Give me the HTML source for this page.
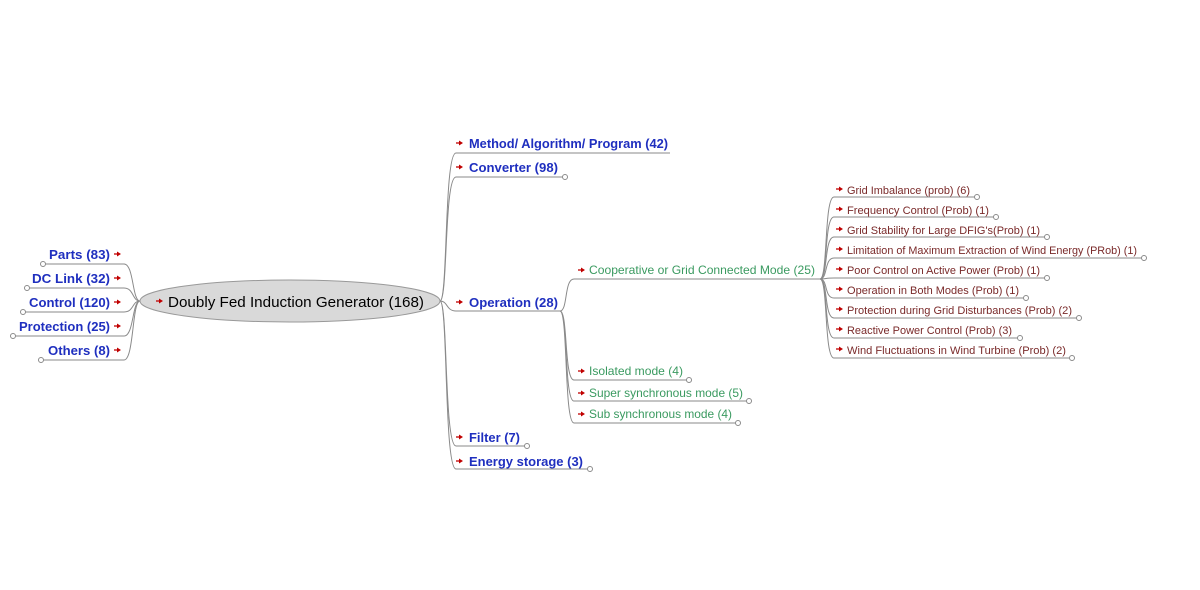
<!DOCTYPE html>
<html><head><meta charset="utf-8"><style>
html,body{margin:0;padding:0;background:#fff;}
svg{display:block;}
.b{font-family:"Liberation Sans",sans-serif;font-size:13px;font-weight:bold;fill:#1f2fbf;}
.g{font-family:"Liberation Sans",sans-serif;font-size:12px;fill:#3a9a60;}
.m{font-family:"Liberation Sans",sans-serif;font-size:11px;fill:#7a2a2a;}
.l{fill:none;stroke:#8a8a8a;stroke-width:1;}
.c{fill:#fff;stroke:#8a8a8a;stroke-width:1;}
</style></head><body>
<svg width="1200" height="590" viewBox="0 0 1200 590" xmlns="http://www.w3.org/2000/svg">
<defs><g id="a"><path d="M0,0 H4" stroke="#c00000" stroke-width="1.3"/><path d="M3,-2.5 L7,0 L3,2.5 Z" fill="#c00000"/></g></defs>

<!-- left branches -->
<path class="l" d="M140,301 C132,301 134,264 124,264 L43,264"/>
<path class="l" d="M140,301 C132,301 134,288 124,288 L27,288"/>
<path class="l" d="M140,301 C132,301 134,312 124,312 L23,312"/>
<path class="l" d="M140,301 C132,301 134,336 124,336 L13,336"/>
<path class="l" d="M140,301 C132,301 134,360 124,360 L41,360"/>
<circle class="c" cx="43" cy="264" r="2.5"/><circle class="c" cx="27" cy="288" r="2.5"/><circle class="c" cx="23" cy="312" r="2.5"/><circle class="c" cx="13" cy="336" r="2.5"/><circle class="c" cx="41" cy="360" r="2.5"/>
<text class="b" x="110" y="259" text-anchor="end" textLength="61" lengthAdjust="spacingAndGlyphs">Parts (83)</text>
<text class="b" x="110" y="283" text-anchor="end" textLength="78" lengthAdjust="spacingAndGlyphs">DC Link (32)</text>
<text class="b" x="110" y="307" text-anchor="end" textLength="81" lengthAdjust="spacingAndGlyphs">Control (120)</text>
<text class="b" x="110" y="331" text-anchor="end" textLength="91" lengthAdjust="spacingAndGlyphs">Protection (25)</text>
<text class="b" x="110" y="355" text-anchor="end" textLength="62" lengthAdjust="spacingAndGlyphs">Others (8)</text>
<use href="#a" x="114" y="254"/><use href="#a" x="114" y="278"/><use href="#a" x="114" y="302"/><use href="#a" x="114" y="326"/><use href="#a" x="114" y="350"/>

<!-- right branches -->
<path class="l" d="M440,301 C448,301 444,153 456,153 L670,153"/>
<path class="l" d="M440,301 C448,301 444,177 456,177 L565,177"/>
<path class="l" d="M440,301 C448,301 446,311 456,311 L560,311"/>
<path class="l" d="M440,301 C448,301 444,446 456,446 L527,446"/>
<path class="l" d="M440,301 C448,301 444,469 456,469 L590,469"/>
<circle class="c" cx="565" cy="177" r="2.5"/><circle class="c" cx="527" cy="446" r="2.5"/><circle class="c" cx="590" cy="469" r="2.5"/>

<!-- root -->
<ellipse cx="290" cy="301" rx="150" ry="21" fill="#d9d9d9" stroke="#999" stroke-width="1"/>
<use href="#a" x="156" y="301"/>
<text x="168" y="307" font-family="Liberation Sans, sans-serif" font-size="15" fill="#000" textLength="256" lengthAdjust="spacingAndGlyphs">Doubly Fed Induction Generator (168)</text>

<use href="#a" x="456" y="143"/><use href="#a" x="456" y="167"/><use href="#a" x="456" y="302"/><use href="#a" x="456" y="437"/><use href="#a" x="456" y="461"/>
<text class="b" x="469" y="148" textLength="199" lengthAdjust="spacingAndGlyphs">Method/ Algorithm/ Program (42)</text>
<text class="b" x="469" y="172" textLength="89" lengthAdjust="spacingAndGlyphs">Converter (98)</text>
<text class="b" x="469" y="307" textLength="89" lengthAdjust="spacingAndGlyphs">Operation (28)</text>
<text class="b" x="469" y="442" textLength="51" lengthAdjust="spacingAndGlyphs">Filter (7)</text>
<text class="b" x="469" y="466" textLength="114" lengthAdjust="spacingAndGlyphs">Energy storage (3)</text>

<!-- operation children -->
<path class="l" d="M560,311 C568,311 564,279 574,279 L820,279"/>
<path class="l" d="M560,311 C568,311 564,380 574,380 L689,380"/>
<path class="l" d="M560,311 C568,311 564,401 574,401 L749,401"/>
<path class="l" d="M560,311 C568,311 564,423 574,423 L738,423"/>
<circle class="c" cx="689" cy="380" r="2.5"/><circle class="c" cx="749" cy="401" r="2.5"/><circle class="c" cx="738" cy="423" r="2.5"/>
<use href="#a" x="578" y="270"/><use href="#a" x="578" y="371"/><use href="#a" x="578" y="393"/><use href="#a" x="578" y="414"/>
<text class="g" x="589" y="274" textLength="226" lengthAdjust="spacingAndGlyphs">Cooperative or Grid Connected Mode (25)</text>
<text class="g" x="589" y="375" textLength="94" lengthAdjust="spacingAndGlyphs">Isolated mode (4)</text>
<text class="g" x="589" y="397" textLength="154" lengthAdjust="spacingAndGlyphs">Super synchronous mode (5)</text>
<text class="g" x="589" y="418" textLength="143" lengthAdjust="spacingAndGlyphs">Sub synchronous mode (4)</text>

<!-- cooperative children -->
<g>
<path class="l" d="M820,279 C828,279 824,197 834,197 L977,197"/>
<path class="l" d="M820,279 C828,279 824,217 834,217 L996,217"/>
<path class="l" d="M820,279 C828,279 824,237 834,237 L1047,237"/>
<path class="l" d="M820,279 C828,279 824,258 834,258 L1144,258"/>
<path class="l" d="M820,279 C828,279 824,278 834,278 L1047,278"/>
<path class="l" d="M820,279 C828,279 824,298 834,298 L1026,298"/>
<path class="l" d="M820,279 C828,279 824,318 834,318 L1079,318"/>
<path class="l" d="M820,279 C828,279 824,338 834,338 L1020,338"/>
<path class="l" d="M820,279 C828,279 824,358 834,358 L1072,358"/>
<circle class="c" cx="977" cy="197" r="2.5"/><circle class="c" cx="996" cy="217" r="2.5"/><circle class="c" cx="1047" cy="237" r="2.5"/><circle class="c" cx="1144" cy="258" r="2.5"/><circle class="c" cx="1047" cy="278" r="2.5"/><circle class="c" cx="1026" cy="298" r="2.5"/><circle class="c" cx="1079" cy="318" r="2.5"/><circle class="c" cx="1020" cy="338" r="2.5"/><circle class="c" cx="1072" cy="358" r="2.5"/>
<use href="#a" x="836" y="189"/><use href="#a" x="836" y="209"/><use href="#a" x="836" y="229"/><use href="#a" x="836" y="249"/><use href="#a" x="836" y="269"/><use href="#a" x="836" y="289"/><use href="#a" x="836" y="309"/><use href="#a" x="836" y="329"/><use href="#a" x="836" y="349"/>
<text class="m" x="847" y="194" textLength="123" lengthAdjust="spacingAndGlyphs">Grid Imbalance (prob) (6)</text>
<text class="m" x="847" y="214" textLength="142" lengthAdjust="spacingAndGlyphs">Frequency Control (Prob) (1)</text>
<text class="m" x="847" y="234" textLength="193" lengthAdjust="spacingAndGlyphs">Grid Stability for Large DFIG's(Prob) (1)</text>
<text class="m" x="847" y="254" textLength="290" lengthAdjust="spacingAndGlyphs">Limitation of Maximum Extraction of Wind Energy (PRob) (1)</text>
<text class="m" x="847" y="274" textLength="193" lengthAdjust="spacingAndGlyphs">Poor Control on Active Power (Prob) (1)</text>
<text class="m" x="847" y="294" textLength="172" lengthAdjust="spacingAndGlyphs">Operation in Both Modes (Prob) (1)</text>
<text class="m" x="847" y="314" textLength="225" lengthAdjust="spacingAndGlyphs">Protection during Grid Disturbances (Prob) (2)</text>
<text class="m" x="847" y="334" textLength="165" lengthAdjust="spacingAndGlyphs">Reactive Power Control (Prob) (3)</text>
<text class="m" x="847" y="354" textLength="219" lengthAdjust="spacingAndGlyphs">Wind Fluctuations in Wind Turbine (Prob) (2)</text>
</g>
</svg>
</body></html>
